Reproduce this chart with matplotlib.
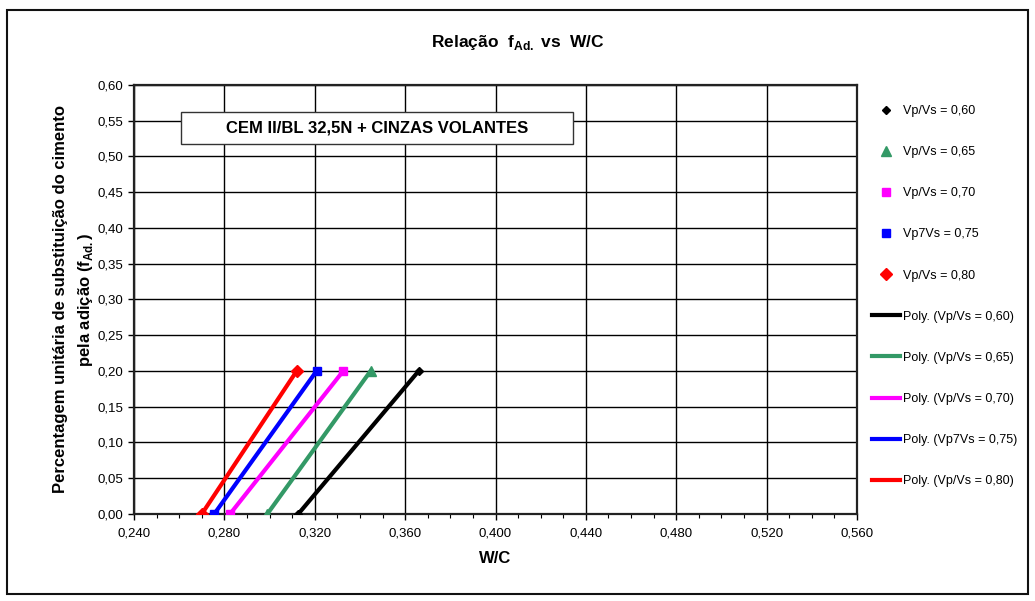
import numpy as np
import matplotlib
matplotlib.use("Agg")
import matplotlib.pyplot as plt
from matplotlib.patches import Rectangle
from matplotlib.ticker import MultipleLocator, FuncFormatter

plt.rcParams['font.family'] = ['Liberation Sans', 'DejaVu Sans']
plt.rcParams['mathtext.fontset'] = 'custom'
plt.rcParams['mathtext.rm'] = 'Liberation Sans'
plt.rcParams['mathtext.bf'] = 'Liberation Sans:bold'

# data: W/C at f_Ad = 0.00 and 0.20
f_ad = [0.00, 0.20]
wc_060 = [0.3127, 0.3660]
wc_065 = [0.2990, 0.3447]
wc_070 = [0.2825, 0.3326]
wc_075 = [0.2755, 0.3208]
wc_080 = [0.2700, 0.3120]

labels = ['Vp/Vs = 0,60', 'Vp/Vs = 0,65', 'Vp/Vs = 0,70', 'Vp7Vs = 0,75', 'Vp/Vs = 0,80']
colors = ['#000000', '#339966', '#FF00FF', '#0000FF', '#FF0000']
markers = ['D', '^', 's', 's', 'D']
msizes = [4.5, 7, 5.5, 5.5, 6]

fig = plt.figure(figsize=(10.35, 6.01), dpi=100)
ax = fig.add_axes([0.1295, 0.1448, 0.6985, 0.7138])

series = [wc_060, wc_065, wc_070, wc_075, wc_080]
pt_handles = []
ln_handles = []
for wc, lab, c, m, ms in zip(series, labels, colors, markers, msizes):
    h, = ax.plot(wc, f_ad, linestyle='none', marker=m, color=c, markersize=ms,
                 label=lab, zorder=4)
    pt_handles.append(h)
for wc, lab, c in zip(series, labels, colors):
    # polynomial trendline (as in the spreadsheet)
    coef = np.polyfit(f_ad, wc, 1)
    yy = np.linspace(min(f_ad), max(f_ad), 20)
    h, = ax.plot(np.polyval(coef, yy), yy, color=c, linewidth=3,
                 label='Poly. (%s)' % lab, zorder=3)
    ln_handles.append(h)

ax.set_xlim(0.24, 0.56)
ax.set_ylim(0.0, 0.60)
ax.xaxis.set_major_locator(MultipleLocator(0.04))
ax.xaxis.set_minor_locator(MultipleLocator(0.01))
ax.yaxis.set_major_locator(MultipleLocator(0.05))
ax.xaxis.set_major_formatter(FuncFormatter(lambda v, p: ('%.3f' % v).replace('.', ',')))
ax.yaxis.set_major_formatter(FuncFormatter(lambda v, p: ('%.2f' % v).replace('.', ',')))
ax.tick_params(axis='both', which='major', labelsize=9.5, length=4, width=1, direction='out')
ax.tick_params(axis='x', which='major', pad=6)
ax.tick_params(axis='x', which='minor', length=3, width=0.8, direction='out')
ax.grid(True, which='major', color='black', linewidth=1)
for s in ax.spines.values():
    s.set_linewidth(1.6)
    s.set_color('#222222')

ax.set_xlabel('W/C', fontsize=12, fontweight='bold', labelpad=8)
ax.set_ylabel('Percentagem unitária de substituição do cimento\n'
              r'pela adição (f$_{\mathbf{Ad.}}$)',
              fontsize=12, fontweight='bold', labelpad=2, linespacing=1.55)
fig.text(0.5, 1 - 42 / 601, r'Relação  f$_{\mathbf{Ad.}}$ vs  W/C', ha='center', va='center',
         fontsize=12.5, fontweight='bold')

# label box
ax.add_patch(Rectangle((0.065, 0.8625), 0.542, 0.0753, transform=ax.transAxes,
                       facecolor='white', edgecolor='#333333', linewidth=1, zorder=5))
ax.text(0.336, 0.9, 'CEM II/BL 32,5N + CINZAS VOLANTES', transform=ax.transAxes,
        ha='center', va='center', fontsize=12, fontweight='bold', zorder=6)

leg = fig.legend(handles=pt_handles + ln_handles, loc='upper left',
                 bbox_to_anchor=(872 / 1035, 1 - 105 / 601), frameon=False, fontsize=9,
                 handlelength=2.2, handletextpad=0.28, labelspacing=2.33,
                 borderaxespad=0, borderpad=0)

fig.patches.append(Rectangle((7 / 1035, 1 - 594 / 601), 1021 / 1035, 584 / 601,
                             transform=fig.transFigure, fill=False,
                             edgecolor='#111111', linewidth=1.5))

fig.savefig('out.png', dpi=100)
